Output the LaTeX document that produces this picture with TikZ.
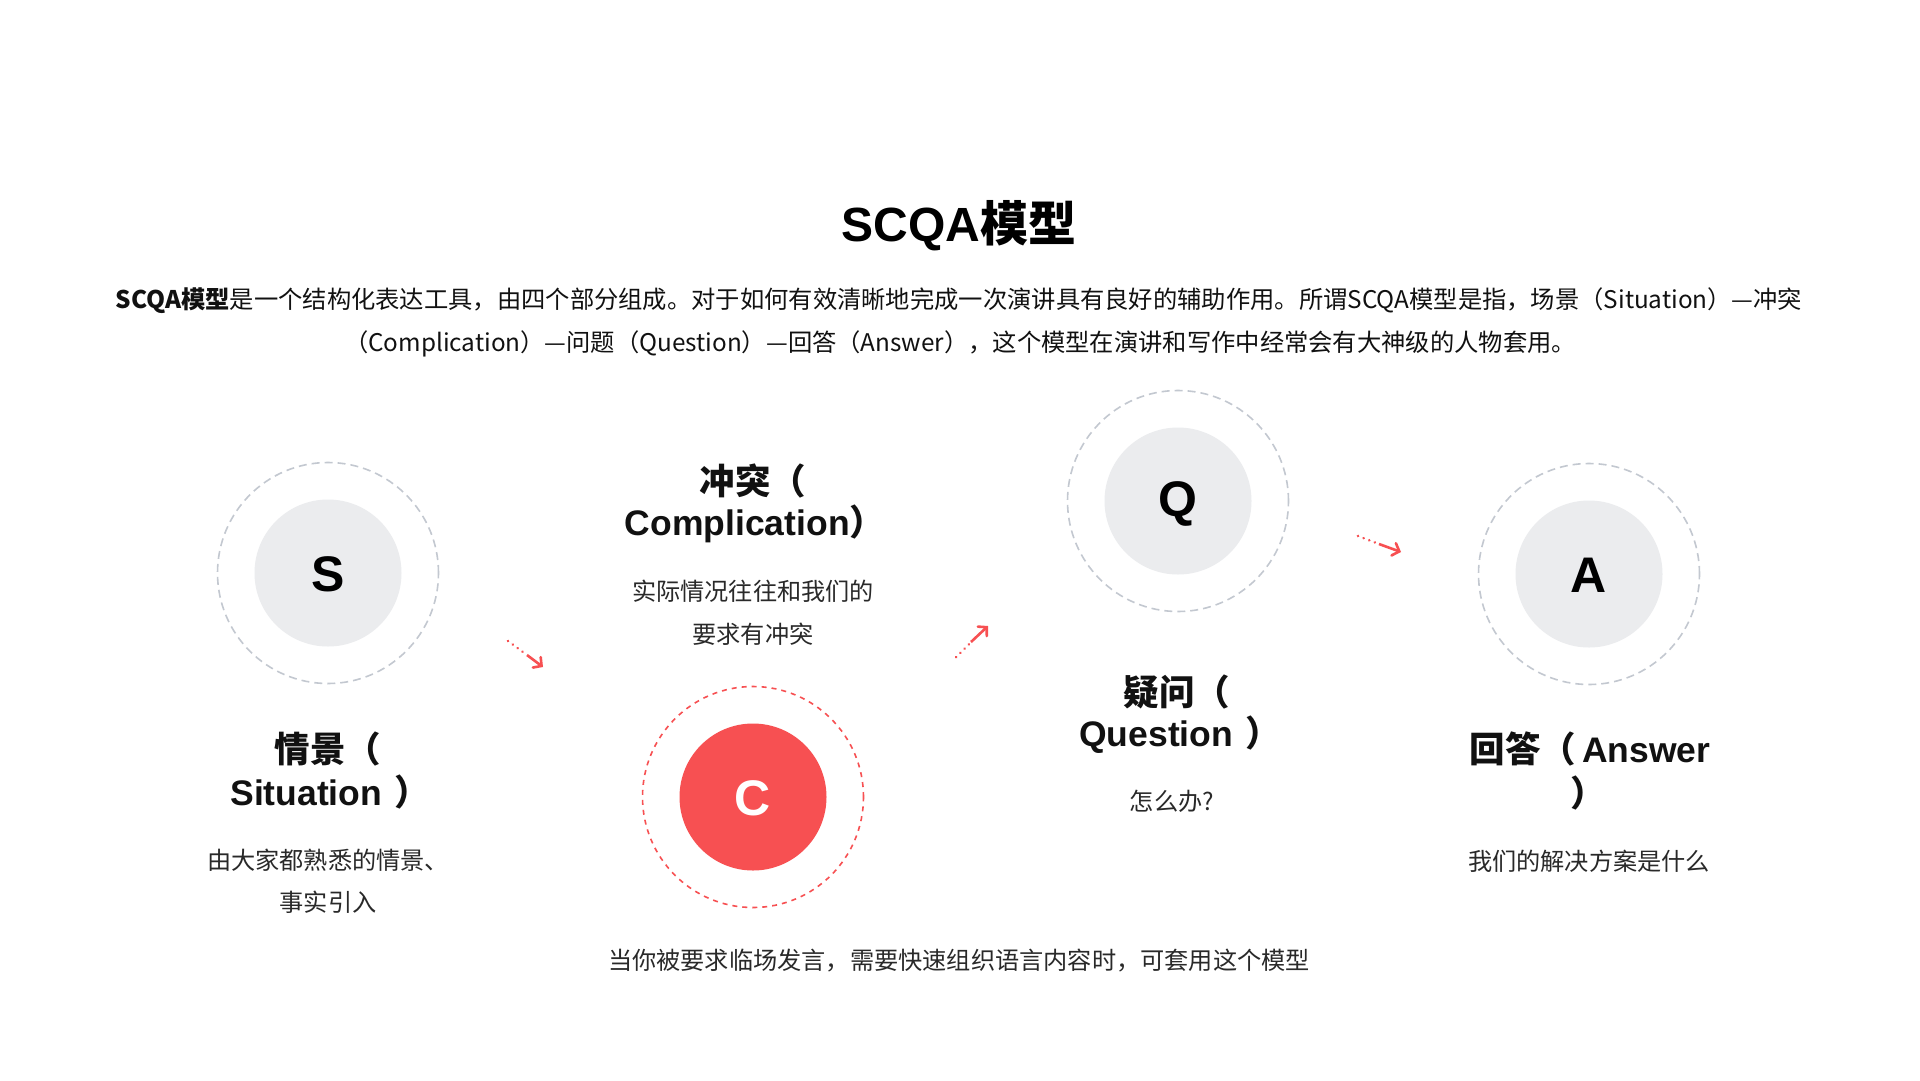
\documentclass[tikz,border=0pt]{standalone}
\usepackage{fontspec}
\setmainfont{Noto Sans CJK SC}
\newfontfamily\letterfont{Liberation Sans}
\newcommand{\lat}[1]{{\letterfont\bfseries #1}}
\usetikzlibrary{arrows.meta}
\definecolor{accent}{HTML}{F75052}
\definecolor{softgray}{HTML}{EBECEE}
\definecolor{ringgray}{HTML}{C3C8D0}
\definecolor{txt}{HTML}{111111}
\begin{document}
\begin{tikzpicture}[x=1pt,y=-1pt,
  inner/.style={circle,minimum size=147pt,inner sep=0pt,fill=softgray},
  innerred/.style={circle,minimum size=147pt,inner sep=0pt,fill=accent},
  ring/.style={circle,minimum size=221pt,inner sep=0pt,draw=ringgray,line width=1.6pt,dash pattern=on 8pt off 5pt},
  ringred/.style={circle,minimum size=221pt,inner sep=0pt,draw=accent,line width=1.6pt,dash pattern=on 5pt off 5pt},
  letter/.style={font=\letterfont\bfseries\fontsize{50}{50}\selectfont,text=black},
  headline/.style={font=\bfseries\fontsize{35.5}{35.5}\selectfont,text=txt,inner sep=0pt},
  desc/.style={font=\fontsize{24.2}{24.2}\selectfont,text=txt!90,inner sep=0pt},
  para/.style={font=\fontsize{24.3}{24.3}\selectfont,text=txt,inner sep=0pt},
  dotline/.style={draw=accent,line width=2.8pt,line cap=round,dash pattern=on 0.01pt off 6pt},
  arrowhd/.style={draw=accent,line width=2.6pt,-{Straight Barb[length=6pt,width=13pt,line cap=round]}}
]
\useasboundingbox (0,0) rectangle (1920,1080);
\fill[white] (0,0) rectangle (1920,1080);

% title and intro
\node[font=\bfseries\fontsize{48}{48}\selectfont,inner sep=0pt] (title) at (959,226) {\lat{SCQA}模型};
\node[para] (p1) at (959,301) {\textbf{SCQA模型}是一个结构化表达工具，由四个部分组成。对于如何有效清晰地完成一次演讲具有良好的辅助作用。所谓SCQA模型是指，场景（Situation）—冲突};
\node[para] (p2) at (960,344) {（Complication）—问题（Question）—回答（Answer），这个模型在演讲和写作中经常会有大神级的人物套用。};

% S
\node[ring] (sring) at (328,573) {};
\node[inner] (scirc) at (328,573) {};
\node[letter] (slet) at (328,574) {S};
\node[headline] (sh1) at (328,749) {情景（};
\node[headline] (sh2) at (330,792) {\lat{Situation}\hspace{12pt}）};
\node[desc] (sd1) at (328,860) {由大家都熟悉的情景、};
\node[desc] (sd2) at (328,902) {事实引入};

% C
\node[ringred] (cring) at (753,797) {};
\node[innerred] (ccirc) at (753,797) {};
\node[letter,text=white] (clet) at (753,798) {C};
\node[headline] (ch1) at (753,481) {冲突（};
\node[headline] (ch2) at (755,524) {\lat{Complication}）};
\node[desc] (cd1) at (753,591) {实际情况往往和我们的};
\node[desc] (cd2) at (753,634) {要求有冲突};

% Q
\node[ring] (qring) at (1178,501) {};
\node[inner] (qcirc) at (1178,501) {};
\node[letter] (qlet) at (1178,504) {Q};
\node[headline] (qh1) at (1177,692) {疑问（};
\node[headline] (qh2) at (1180,735) {\lat{Question}\hspace{12pt}）};
\node[desc] (qd1) at (1172,801) {怎么办?};

% A
\node[ring] (aring) at (1589,574) {};
\node[inner] (acirc) at (1589,574) {};
\node[letter] (alet) at (1589,575) {A};
\node[headline] (ah1) at (1590,749) {回答（\hspace{6pt}\lat{Answer}};
\node[headline] (ah2) at (1588,793) {）};
\node[desc] (ad1) at (1589,861) {我们的解决方案是什么};

% bottom line
\node[desc] (bottom) at (959,961) {当你被要求临场发言，需要快速组织语言内容时，可套用这个模型};

% arrows
\coordinate (a1s) at (508,641); \coordinate (a1m) at (527,655); \coordinate (a1e) at (543,667);
\coordinate (a2s) at (956,657); \coordinate (a2m) at (971,642); \coordinate (a2e) at (988,626);
\coordinate (a3s) at (1358,536); \coordinate (a3m) at (1379,544); \coordinate (a3e) at (1401,552);
\draw[dotline] (a1s) -- (a1m);
\draw[arrowhd] (a1m) -- (a1e);
\draw[dotline] (a2s) -- (a2m);
\draw[arrowhd] (a2m) -- (a2e);
\draw[dotline] (a3s) -- (a3m);
\draw[arrowhd] (a3m) -- (a3e);
\end{tikzpicture}
\end{document}
